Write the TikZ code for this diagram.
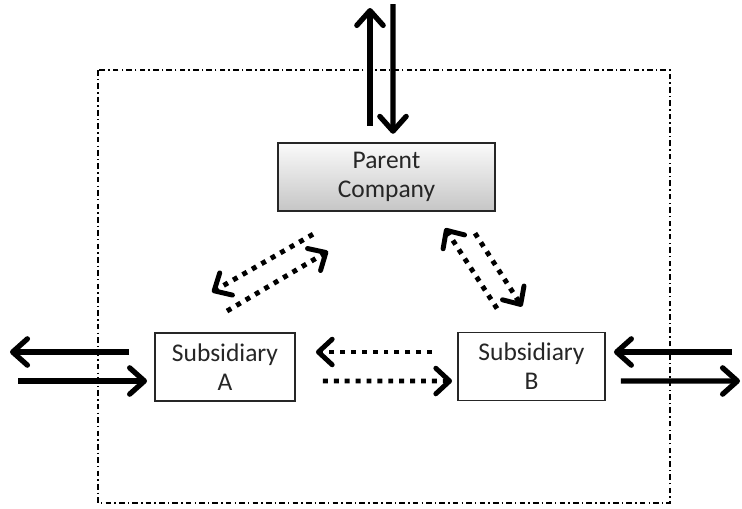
\documentclass[tikz,border=0pt]{standalone}
\usepackage{fontspec}
\setmainfont{Carlito}
\usetikzlibrary{arrows.meta}
\usetikzlibrary{calc}

\tikzset{
  box/.style={draw=black!85, line width=1.1pt, align=center, inner sep=0pt,
    minimum height=1.36cm, font=\fontsize{14.5}{16.5}\selectfont, text=black!85},
  flow/.style={line width=3pt, -{Straight Barb[length=0pt 2.8, width=0pt 5, line width=0pt 1, round]}},
  dotflow/.style={line width=2.8pt, dash pattern=on 2.8pt off 3.4pt,
    -{Straight Barb[length=0pt 2.8, width=0pt 5.2, line width=0pt 1, round]}},
  border/.style={line width=0.8pt, dash pattern=on 3.2pt off 1.8pt on 0.8pt off 1.8pt}
}

\begin{document}
\begin{tikzpicture}[x=0.02cm, y=-0.02cm]
          \useasboundingbox (0,0) rectangle (742,508);

          \draw[border] (98,70) rectangle (670,503);

          \node[box, minimum width=4.34cm, line width=1.4pt, top color=gray!4, bottom color=gray!45]
            (pc) at (386.5,177) {Parent\\Company};
          \node[box, fill=white, minimum width=2.8cm] (sa) at (225,367) {Subsidiary\\A};
          \node[box, fill=white, minimum width=2.94cm] (sb) at (531.5,366.5) {Subsidiary\\B};

          \coordinate (upend) at (370,8);
          \coordinate (downstart) at (393,4);
          \coordinate (leftend) at (10,352);
          \coordinate (leftstart) at (18,381);
          \coordinate (rightstart) at (732,352);
          \coordinate (rightend) at (740,381);

          % outside flows
          \draw[flow] ($(pc.north)+(-16.5,-16)$) -- (upend);
          \draw[flow] (downstart) -- ($(pc.north)+(6.5,-8)$);
          \draw[flow] ($(sa.west)+(-25,-15)$) -- (leftend);
          \draw[flow] (leftstart) -- ($(sa.west)+(-7,14)$);
          \draw[flow] (rightstart) -- ($(sb.east)+(8,-14.5)$);
          \draw[flow] ($(sb.east)+(15,14.5)$) -- (rightend);

          % inside flows
          \draw[dotflow] ($(sb.west)+(-25,-14.5)$) -- ($(sa.east)+(20,-15)$);
          \draw[dotflow] ($(sa.east)+(27,14)$) -- ($(sb.west)+(-5,14.5)$);
          \draw[dotflow] ($(pc.south)+(-73.5,22)$) -- ($(sa.north)+(-13,-40)$);
          \draw[dotflow] ($(sa.north)+(2,-21)$) -- ($(pc.south)+(-58.5,39)$);
          \draw[dotflow] ($(sb.north)+(-34.5,-23)$) -- ($(pc.south)+(58.5,16)$);
          \draw[dotflow] ($(pc.south)+(88.5,21)$) -- ($(sb.north)+(-9.5,-25)$);

\end{tikzpicture}
\end{document}
